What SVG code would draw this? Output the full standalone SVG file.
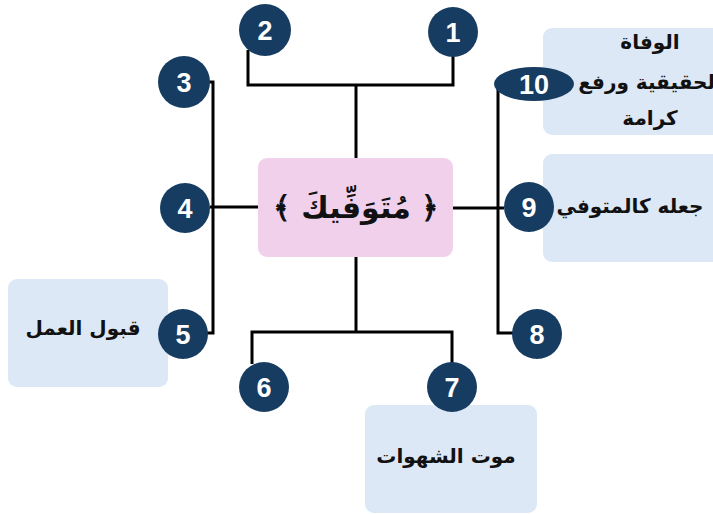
<svg xmlns="http://www.w3.org/2000/svg" width="713" height="514" viewBox="0 0 713 514">
<defs>
<style>
.box{fill:#dce8f5}
.center{fill:#f1d0ec}
.num{fill:#173c61}
.nt{fill:#ffffff;font-family:"Liberation Sans",Arial,sans-serif;font-weight:bold;font-size:27px;text-anchor:middle;dominant-baseline:central}
.ar{fill:#111111;font-family:"DejaVu Sans",sans-serif;font-weight:bold;font-size:20px;text-anchor:middle;dominant-baseline:central;direction:rtl}
.ln{fill:none;stroke:#000000;stroke-width:3;stroke-linejoin:miter}
</style>
</defs>
<rect width="713" height="514" fill="#ffffff"/>
<g id="connectors">
<polyline class="ln" points="356,158 356,85"/>
<polyline class="ln" points="248,50 248,85 453,85 453,56"/>
<polyline class="ln" points="209,82 213,82 213,333 207,333"/>
<polyline class="ln" points="210,207 258,207"/>
<polyline class="ln" points="453,208 504,208"/>
<polyline class="ln" points="498,89 498,333 513,333"/>
<polyline class="ln" points="356,257 356,332"/>
<polyline class="ln" points="252,364 252,332 452,332 452,364"/>
</g>
<g id="box-center"><rect class="center" x="258" y="158" width="195" height="99" rx="9"/>
<text x="356" y="207" style="fill:#111;font-family:'DejaVu Sans',sans-serif;font-weight:bold;font-size:30px;text-anchor:middle;dominant-baseline:central;direction:rtl">﴿ مُتَوَفِّيكَ ﴾</text></g>
<g id="box-10"><rect class="box" x="543" y="28" width="180" height="107" rx="9"/>
<text class="ar" x="650" y="42">الوفاة</text>
<text class="ar" x="650" y="82">الحقيقية ورفع</text>
<text class="ar" x="650" y="118">كرامة</text></g>
<g id="box-9"><rect class="box" x="543" y="154" width="180" height="108" rx="9"/>
<text class="ar" x="630" y="206">جعله كالمتوفي</text></g>
<g id="box-5"><rect class="box" x="8" y="279" width="160" height="108" rx="9"/>
<text class="ar" x="83" y="328">قبول العمل</text></g>
<g id="box-7"><rect class="box" x="365" y="405" width="172" height="108" rx="9"/>
<text class="ar" x="446" y="456">موت الشهوات</text></g>
<g id="n1"><circle class="num" cx="453" cy="32" r="25"/><text class="nt" x="453" y="33">1</text></g>
<g id="n2"><circle class="num" cx="265" cy="30" r="26"/><text class="nt" x="265" y="31">2</text></g>
<g id="n3"><circle class="num" cx="184" cy="82" r="26"/><text class="nt" x="184" y="83">3</text></g>
<g id="n4"><circle class="num" cx="185" cy="208" r="25"/><text class="nt" x="185" y="209">4</text></g>
<g id="n5"><circle class="num" cx="183" cy="334" r="25"/><text class="nt" x="183" y="335">5</text></g>
<g id="n6"><circle class="num" cx="264" cy="387" r="25"/><text class="nt" x="264" y="388">6</text></g>
<g id="n7"><circle class="num" cx="452" cy="387" r="25"/><text class="nt" x="452" y="388">7</text></g>
<g id="n8"><circle class="num" cx="537" cy="334" r="25"/><text class="nt" x="537" y="335">8</text></g>
<g id="n9"><circle class="num" cx="529" cy="207" r="25"/><text class="nt" x="529" y="208">9</text></g>
<g id="n10"><ellipse class="num" cx="534" cy="84" rx="40" ry="17"/><text class="nt" x="534" y="85">10</text></g>
</svg>
